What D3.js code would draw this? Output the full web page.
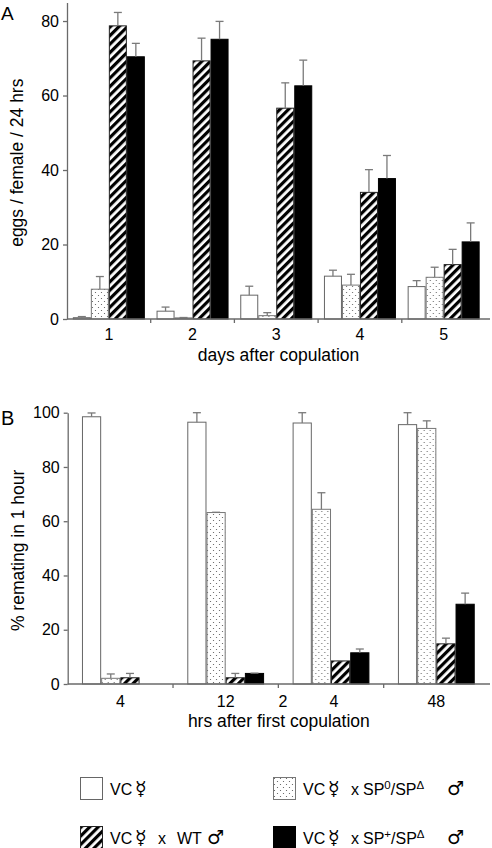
<!DOCTYPE html>
<html>
<head>
<meta charset="utf-8">
<script src="https://cdn.jsdelivr.net/npm/d3@7"></script>
<style>
  html, body { margin: 0; padding: 0; background: #fff; }
  svg { display: block; }
  text { font-family: "Liberation Sans", Arial, "DejaVu Sans", sans-serif; fill: #000; }
  .sym { font-family: "DejaVu Sans", sans-serif; }
</style>
</head>
<body>
<svg id="chart" width="492" height="848"></svg>
<script>
// ---------- data ----------
const seriesKeys = ["vc", "sp0", "wt", "spplus"];

// Panel A: eggs / female / 24 hrs
const daysCats = ["1", "2", "3", "4", "5"];
const eggsVC      = [0.35, 2.1, 6.4, 11.5, 8.7];
const eggsVCErr   = [0.3, 1.1, 2.4, 1.6, 1.6];
const eggsSP0     = [8.0, 0.3, 0.9, 9.1, 11.2];
const eggsSP0Err  = [3.4, 0.1, 0.8, 2.9, 2.7];
const eggsWT      = [78.7, 69.3, 56.6, 34.0, 14.6];
const eggsWTErr   = [3.6, 6.1, 6.8, 6.1, 4.1];
const eggsSPp     = [70.4, 75.1, 62.6, 37.7, 20.7];
const eggsSPpErr  = [3.6, 4.8, 6.9, 6.2, 5.1];
const yTicksA = [0, 20, 40, 60, 80];

// Panel B: % remating in 1 hour
const hrsCats = ["4", "12", "24", "48"];
const remVC      = [98.5, 96.5, 96.2, 95.6];
const remVCErr   = [1.4, 3.5, 3.8, 4.4];
const remSP0     = [2.1, 63.2, 64.4, 94.2];
const remSP0Err  = [1.6, 0.1, 6.1, 2.8];
const remWT      = [2.3, 2.3, 8.5, 14.8];
const remWTErr   = [1.6, 1.6, 0.1, 2.1];
const remSPp     = [0, 3.9, 11.5, 29.4];
const remSPpErr  = [0, 0.1, 1.4, 4.1];
const yTicksB = [0, 20, 40, 60, 80, 100];

// ---------- setup ----------
const svg = d3.select("#chart");
const axisColor = "#6a6a6a";
const errColor = "#7a7a7a";
const defs = svg.append("defs");

const hatch = defs.append("pattern").attr("id", "hatch")
  .attr("patternUnits", "userSpaceOnUse").attr("width", 6).attr("height", 6)
  .attr("patternTransform", "rotate(45)");
hatch.append("rect").attr("width", 6).attr("height", 6).attr("fill", "#fff");
hatch.append("rect").attr("width", 3.2).attr("height", 6).attr("fill", "#000");

const dots = defs.append("pattern").attr("id", "dots")
  .attr("patternUnits", "userSpaceOnUse").attr("width", 6).attr("height", 6);
dots.append("rect").attr("width", 6).attr("height", 6).attr("fill", "#fff");
dots.append("circle").attr("cx", 1.5).attr("cy", 1.5).attr("r", 0.6).attr("fill", "#555");
dots.append("circle").attr("cx", 4.5).attr("cy", 4.5).attr("r", 0.6).attr("fill", "#555");

const fills = { vc: "#fff", sp0: "url(#dots)", wt: "url(#hatch)", spplus: "#000" };
const strokes = { vc: "#666", sp0: "#777", wt: "#222", spplus: "#000" };

function buildRows(cats, vals, errs) {
  return cats.map((c, i) => ({
    cat: c,
    bars: seriesKeys.map((k, j) => ({ key: k, v: vals[j][i], e: errs[j][i] }))
  }));
}

function drawPanel(opts) {
  const { cats, rows, x0Range, axisEnd, yDomain, yRange, yTicks, barW,
          tickLabelY, titleY, title, yTitle, yTitleX, letter, letterY, letterSize, splitLabel } = opts;
  const g = svg.append("g");
  const x0 = d3.scaleBand().domain(cats).range(x0Range).paddingInner(0).paddingOuter(0);
  const pad = (x0.bandwidth() - barW * seriesKeys.length) / 2;
  const x1 = d3.scaleBand().domain(seriesKeys).range([pad, pad + barW * seriesKeys.length]);
  const y = d3.scaleLinear().domain(yDomain).range(yRange);

  // bars
  const grp = g.selectAll(".grp").data(rows).join("g")
    .attr("transform", d => `translate(${x0(d.cat)},0)`);
  grp.selectAll("rect.bar").data(d => d.bars.filter(b => b.v > 0)).join("rect")
    .attr("class", "bar")
    .attr("x", d => x1(d.key) + 0.5)
    .attr("width", x1.bandwidth() - 1)
    .attr("y", d => y(d.v))
    .attr("height", d => y(0) - y(d.v))
    .attr("fill", d => fills[d.key])
    .attr("stroke", d => strokes[d.key])
    .attr("stroke-width", 1);

  // error bars
  const eb = grp.selectAll("g.err").data(d => d.bars.filter(b => b.e > 0)).join("g").attr("class", "err");
  eb.append("line")
    .attr("x1", d => x1(d.key) + x1.bandwidth() / 2)
    .attr("x2", d => x1(d.key) + x1.bandwidth() / 2)
    .attr("y1", d => y(d.v)).attr("y2", d => y(d.v + d.e))
    .attr("stroke", errColor).attr("stroke-width", 1.3);
  eb.append("line")
    .attr("x1", d => x1(d.key) + x1.bandwidth() / 2 - 4)
    .attr("x2", d => x1(d.key) + x1.bandwidth() / 2 + 4)
    .attr("y1", d => y(d.v + d.e)).attr("y2", d => y(d.v + d.e))
    .attr("stroke", errColor).attr("stroke-width", 1.3);

  // y axis
  const ya = g.append("g").attr("transform", `translate(${x0Range[0]},0)`)
    .call(d3.axisLeft(y).tickValues(yTicks).tickSize(4).tickSizeOuter(0).tickPadding(4));
  ya.select(".domain").attr("stroke", axisColor).attr("stroke-width", 1.3);
  ya.selectAll(".tick line").attr("stroke", axisColor).attr("stroke-width", 1.3);
  ya.selectAll(".tick text").attr("font-size", 16)
    .attr("font-family", "'Liberation Sans', Arial, sans-serif").attr("fill", "#000");

  // x axis
  g.append("line").attr("x1", x0Range[0]).attr("x2", axisEnd)
    .attr("y1", y(0)).attr("y2", y(0)).attr("stroke", axisColor).attr("stroke-width", 1.3);
  g.selectAll(".xtick").data(cats.slice(1)).join("line")
    .attr("x1", d => x0(d)).attr("x2", d => x0(d))
    .attr("y1", y(0)).attr("y2", y(0) + 4)
    .attr("stroke", axisColor).attr("stroke-width", 1.3);
  g.selectAll(".xlab").data(cats).join("text")
    .attr("x", d => x0(d) + x0.bandwidth() / 2)
    .attr("y", tickLabelY)
    .attr("text-anchor", "middle").attr("font-size", 16)
    .each(function (d) {
      const t = d3.select(this);
      if (splitLabel && d === splitLabel) {
        const cx = x0(d) + x0.bandwidth() / 2;
        t.append("tspan").attr("x", cx - 48).text(d.slice(0, 1));
        t.append("tspan").attr("x", cx + 3).text(d.slice(1));
      } else {
        t.text(d);
      }
    });

  // titles
  g.append("text").attr("x", (x0Range[0] + axisEnd) / 2).attr("y", titleY)
    .attr("text-anchor", "middle").attr("font-size", 17.5).text(title);
  g.append("text")
    .attr("transform", `translate(${yTitleX},${(yRange[0] + yRange[1]) / 2 + 2}) rotate(-90)`)
    .attr("text-anchor", "middle").attr("font-size", 17.5).text(yTitle);
  g.append("text").attr("x", 1).attr("y", letterY).attr("font-size", letterSize).text(letter);
}

drawPanel({
  cats: daysCats,
  rows: buildRows(daysCats, [eggsVC, eggsSP0, eggsWT, eggsSPp], [eggsVCErr, eggsSP0Err, eggsWTErr, eggsSPpErr]),
  x0Range: [67, 485.5], axisEnd: 490,
  yDomain: [0, 85], yRange: [319, 2.4], yTicks: yTicksA, barW: 18,
  tickLabelY: 340, titleY: 361, title: "days after copulation",
  yTitle: "eggs / female / 24 hrs", yTitleX: 23, letter: "A", letterY: 20, letterSize: 19
});

drawPanel({
  cats: hrsCats,
  rows: buildRows(hrsCats, [remVC, remSP0, remWT, remSPp], [remVCErr, remSP0Err, remWTErr, remSPpErr]),
  x0Range: [67.7, 489], axisEnd: 490,
  yDomain: [0, 100], yRange: [684, 412.7], yTicks: yTicksB, barW: 19.2,
  tickLabelY: 707, titleY: 727, title: "hrs after first copulation",
  yTitle: "% remating in 1 hour", yTitleX: 24, letter: "B", letterY: 425, letterSize: 20,
  splitLabel: "24"
});

// ---------- legend ----------
// parts: [text, type, relative x (optional)]
const legendItems = [
  { key: "vc",     x: 80,  y: 777, parts: [["VC", "n", 30], ["\u263F", "sym", 55]] },
  { key: "sp0",    x: 273, y: 777, parts: [["VC", "n", 30], ["\u263F", "sym", 55], ["x", "n", 78], ["SP", "n", 90], ["0", "sup"], ["/SP", "n"], ["\u0394", "sup"], ["\u2642", "sym", 174]] },
  { key: "wt",     x: 80,  y: 826, parts: [["VC", "n", 30], ["\u263F", "sym", 55], ["x", "n", 78], ["WT", "n", 97], ["\u2642", "sym", 127]] },
  { key: "spplus", x: 273, y: 826, parts: [["VC", "n", 30], ["\u263F", "sym", 55], ["x", "n", 78], ["SP", "n", 90], ["+", "sup"], ["/SP", "n"], ["\u0394", "sup"], ["\u2642", "sym", 174]] }
];
const lg = svg.append("g");
const li = lg.selectAll("g").data(legendItems).join("g")
  .attr("transform", d => `translate(${d.x},${d.y})`);
li.append("rect").attr("x", 0.5).attr("y", 0.5).attr("width", 22).attr("height", 22)
  .attr("fill", d => fills[d.key]).attr("stroke", d => strokes[d.key]).attr("stroke-width", 1);
li.append("text").attr("y", 18).attr("font-size", 16)
  .each(function (d) {
    const t = d3.select(this);
    d.parts.forEach(([s, type, px]) => {
      const ts = t.append("tspan").text(s);
      if (px !== undefined) ts.attr("x", px);
      if (type === "sym") ts.attr("class", "sym").attr("font-size", 19);
      if (type === "sup") ts.attr("font-size", 11.5).attr("dy", -6);
      if (type === "n" && px === undefined) ts.attr("dy", 6);
      if (type === "sym" || (type === "n" && px !== undefined)) ts.attr("y", 18);
    });
  });
</script>
</body>
</html>
